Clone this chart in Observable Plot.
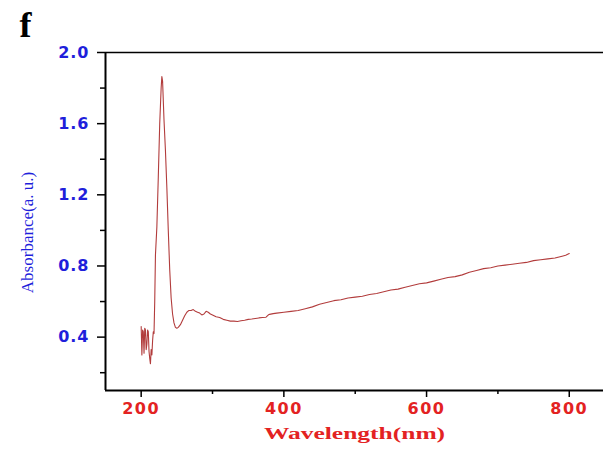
<!DOCTYPE html>
<html><head><meta charset="utf-8">
<script src="https://cdn.jsdelivr.net/npm/d3@7"></script>
<script src="https://cdn.jsdelivr.net/npm/@observablehq/plot@0.6"></script>
<style>body{margin:0;background:#fff;} svg{display:block}</style>
</head><body><div id="chart"></div>
<script>
const wavelength = [200,201,202,203,204,205,206,207,208,209,210,211,212,213,214,215,216,217,218,219,220,222,224,226,228,229,230,232,234,236,238,240,242,244,246,248,250,252,255,258,261,264,267,270,273,276,279,282,285,288,291,294,297,300,305,310,315,320,325,330,335,340,345,350,355,360,365,370,375,378,380,385,390,400,410,420,430,440,450,460,470,480,490,500,510,520,530,540,550,560,570,580,590,600,610,620,630,640,650,660,670,680,690,700,710,720,730,740,750,760,770,780,790,795,800];
const absorbance = [0.46,0.30,0.44,0.43,0.31,0.45,0.44,0.33,0.36,0.44,0.43,0.32,0.28,0.25,0.33,0.30,0.38,0.43,0.42,0.60,0.86,1.02,1.30,1.60,1.80,1.865,1.84,1.62,1.45,1.24,1.00,0.78,0.62,0.53,0.48,0.455,0.45,0.455,0.47,0.495,0.52,0.54,0.55,0.55,0.555,0.545,0.54,0.535,0.525,0.53,0.545,0.54,0.53,0.525,0.515,0.51,0.50,0.495,0.49,0.49,0.488,0.492,0.495,0.50,0.502,0.505,0.508,0.51,0.512,0.524,0.528,0.532,0.535,0.54,0.545,0.55,0.56,0.57,0.585,0.595,0.605,0.61,0.62,0.625,0.63,0.64,0.645,0.655,0.665,0.67,0.68,0.69,0.70,0.705,0.715,0.725,0.735,0.74,0.75,0.765,0.775,0.785,0.79,0.80,0.805,0.81,0.815,0.82,0.83,0.835,0.84,0.845,0.855,0.86,0.87];
const yMajorTicks = [0.4, 0.8, 1.2, 1.6, 2.0];
const yMinorTicks = [0.2, 0.6, 1.0, 1.4, 1.8];
const xMajorTicks = [200, 400, 600, 800];
const xMinorTicks = [300, 500, 700];
const xDomain = [150, 848];
const yDomain = [0.1, 2.0];
const panelLabel = "f";
const xTitle = "Wavelength(nm)";
const yTitle = "Absorbance(a. u.)";

const data = wavelength.map((w, i) => ({w, a: absorbance[i]}));
const blue = "#1f1fdb", red = "#e32222";

const chart = Plot.plot({
  width: 603, height: 449,
  marginLeft: 105, marginTop: 52, marginBottom: 59, marginRight: 0,
  style: {background: "#fff", overflow: "visible"},
  x: {domain: xDomain, label: null},
  y: {domain: yDomain, label: null},
  marks: [
    Plot.axisY(yMinorTicks, {tickSize: 5, tickFormat: () => "", stroke: "#000", strokeWidth: 1.5, label: null}),
    Plot.axisY(yMajorTicks, {tickSize: 8, tickPadding: 8, tickFormat: d => d.toFixed(1), fill: blue, stroke: "#000", strokeWidth: 1.5, fontSize: 16, fontWeight: "bold", fontFamily: "DejaVu Sans", label: null}),
    Plot.axisX(xMinorTicks, {tickSize: 4, tickFormat: () => "", stroke: "#000", strokeWidth: 1.5, label: null}),
    Plot.axisX(xMajorTicks, {tickSize: 7, tickPadding: 5, tickFormat: d => String(d), fill: red, stroke: "#000", strokeWidth: 1.5, fontSize: 16, fontWeight: "bold", fontFamily: "DejaVu Sans", label: null}),
    Plot.ruleX([xDomain[0]], {stroke: "#000", strokeWidth: 2}),
    Plot.ruleY([yDomain[0]], {stroke: "#000", strokeWidth: 2}),
    Plot.ruleY([yDomain[1]], {stroke: "#000", strokeWidth: 1.5}),
    Plot.line(data, {x: "w", y: "a", stroke: "#b23c3c", strokeWidth: 1.1}),
    Plot.text([yTitle], {text: d => d, frameAnchor: "left", textAnchor: "middle", rotate: -90, dx: -78, dy: 11, fill: blue, fontSize: 17, fontFamily: "Liberation Serif"}),
    Plot.text([xTitle], {text: d => d, frameAnchor: "bottom", dy: 48, fill: red, fontSize: 17, fontWeight: "bold", fontFamily: "Liberation Serif"}),
    Plot.text([panelLabel], {text: d => d, frameAnchor: "top-left", textAnchor: "middle", lineAnchor: "middle", dx: -80, dy: -27, fill: "#000", fontSize: 36, fontWeight: "bold", fontFamily: "Liberation Serif"})
  ]
});
document.getElementById("chart").appendChild(chart);
function stretch(el, sx) {
  const tr = el.getAttribute("transform") || "";
  const x = +(el.getAttribute("x") || 0), y = +(el.getAttribute("y") || 0);
  el.removeAttribute("x"); el.removeAttribute("y");
  el.setAttribute("transform", `${tr} translate(${x},${y}) scale(${sx},1)`);
}
d3.select(chart).selectAll("text").each(function() {
  const t = this.textContent;
  if (t === xTitle) stretch(this, 1.5);
  if (["200","400","600","800"].includes(t)) d3.select(this).style("letter-spacing", "1.5px");
  if (["0.4","0.8","1.2","1.6","2.0"].includes(t)) d3.select(this).style("letter-spacing", "1px");
});
</script></body></html>
